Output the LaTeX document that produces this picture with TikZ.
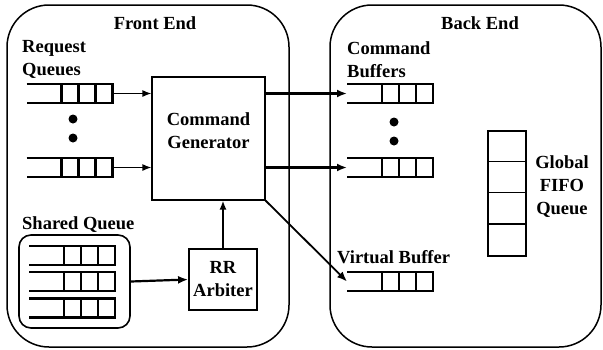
\documentclass[tikz,border=0pt]{standalone}
\usepackage{fontspec}
\setmainfont{Liberation Serif}
\usetikzlibrary{arrows.meta,calc,positioning}

% queue with an open left end and three cells
\newcommand{\QueueBox}[2]{%
  \node[qnode] (#1) at (#2) {};
  \draw[qline] (#1.north west) -- (#1.north east) -- (#1.south east) -- (#1.south west);
  \foreach \k in {1,2,3}
    \draw[qcell] ($(#1.north east)-(\k*17,0)$) -- ($(#1.south east)-(\k*17,0)$);
}

\begin{document}
\begin{tikzpicture}[x=1pt,y=-1pt]
    \tikzset{lbl/.style = {font=\bfseries\fontsize{18.5}{23}\selectfont,
        align=left, inner sep=0pt},
      endbox/.style = {draw, line width=1.5pt, rounded corners=42pt,
        inner sep=0pt},
      qnode/.style = {minimum width=86pt, minimum height=19pt,
        inner sep=0pt, outer sep=0pt},
      qline/.style = {line width=2.6pt},
      qcell/.style = {line width=2.2pt},
      unit/.style = {draw, line width=1.2pt, inner sep=0pt},
      thin arrow/.style = {-{Latex[length=9pt,width=7pt]}, line width=1.2pt},
      thick arrow/.style = {-{Latex[length=10pt,width=8pt]}, line width=2.2pt},
      dot/.style = {circle, fill, inner sep=0pt, minimum size=9pt}}
    \useasboundingbox (0,0) rectangle (603,349);
    % the two ends
    \node[endbox, minimum width=282pt, minimum height=342pt] (fe) at (148,176) {};
    \node[endbox, minimum width=271pt, minimum height=342pt] (be) at (465.5,176) {};
    \node[lbl] (fetitle) at (155,23) {Front End};
    \node[lbl] (betitle) at (480,23) {Back End};
    % front end
    \node[lbl, anchor=west] (rqtext) at (22,59.5) {Request\\Queues};
    \QueueBox{rq1}{69.5,93.5}
    \QueueBox{rq2}{69.5,167.5}
    \node[dot] (rqdot1) at (73,119) {};
    \node[dot] (rqdot2) at (73,138) {};
    \node[unit, minimum width=113pt, minimum height=123pt] (cg) at (208.5,138.5) {};
    \node[lbl, align=center] (cgtext) at ($(cg.center)+(0,-8)$) {Command\\Generator};
    \node[lbl, anchor=west] (sqtext) at (22,225) {Shared Queue};
    \node[draw, line width=1.6pt, rounded corners=12pt, minimum width=111pt,
      minimum height=93pt] (sq) at (74.5,281.5) {};
    \QueueBox{sq1}{72,255.5}
    \QueueBox{sq2}{72,281.5}
    \QueueBox{sq3}{72,308}
    \node[unit, line width=1.8pt, minimum width=68pt, minimum height=61pt,
      lbl, align=center] (rr) at (223,279.5) {RR\\Arbiter};
    % back end
    \node[lbl, anchor=west] (cbtext) at (347,59.5) {Command\\Buffers};
    \QueueBox{cb1}{390,93.5}
    \QueueBox{cb2}{390,167.5}
    \node[dot] (cbdot1) at (394,122) {};
    \node[dot] (cbdot2) at (394,141) {};
    \node[lbl, anchor=west] (vbtext) at (337,257) {Virtual Buffer};
    \QueueBox{vb}{390,281.5}
    \node[unit, line width=1.4pt, minimum width=38pt, minimum height=125pt] (fifo) at (507,193.5) {};
    \foreach \k in {1,2,3}
      \draw[line width=1.2pt] ($(fifo.north west)+(0,\k*31.25)$) -- ($(fifo.north east)+(0,\k*31.25)$);
    \node[lbl, align=center] (fifotext) at (562,187) {Global\\FIFO\\Queue};
    % connectors
    \draw[thin arrow] (rq1.east) -- (rq1.east -| cg.west);
    \draw[thin arrow] (rq2.east) -- (rq2.east -| cg.west);
    \draw[thick arrow] (cg.east |- cb1.west) -- (cb1.west);
    \draw[thick arrow] (cg.east |- cb2.west) -- (cb2.west);
    \draw[thick arrow, line width=1.8pt] (cg.south east) -- (vb.west);
    \draw[thick arrow] (sq.east) -- (rr.west);
    \draw[thin arrow, line width=1.6pt] (rr.north) -- (rr.north |- cg.south);
\end{tikzpicture}
\end{document}
